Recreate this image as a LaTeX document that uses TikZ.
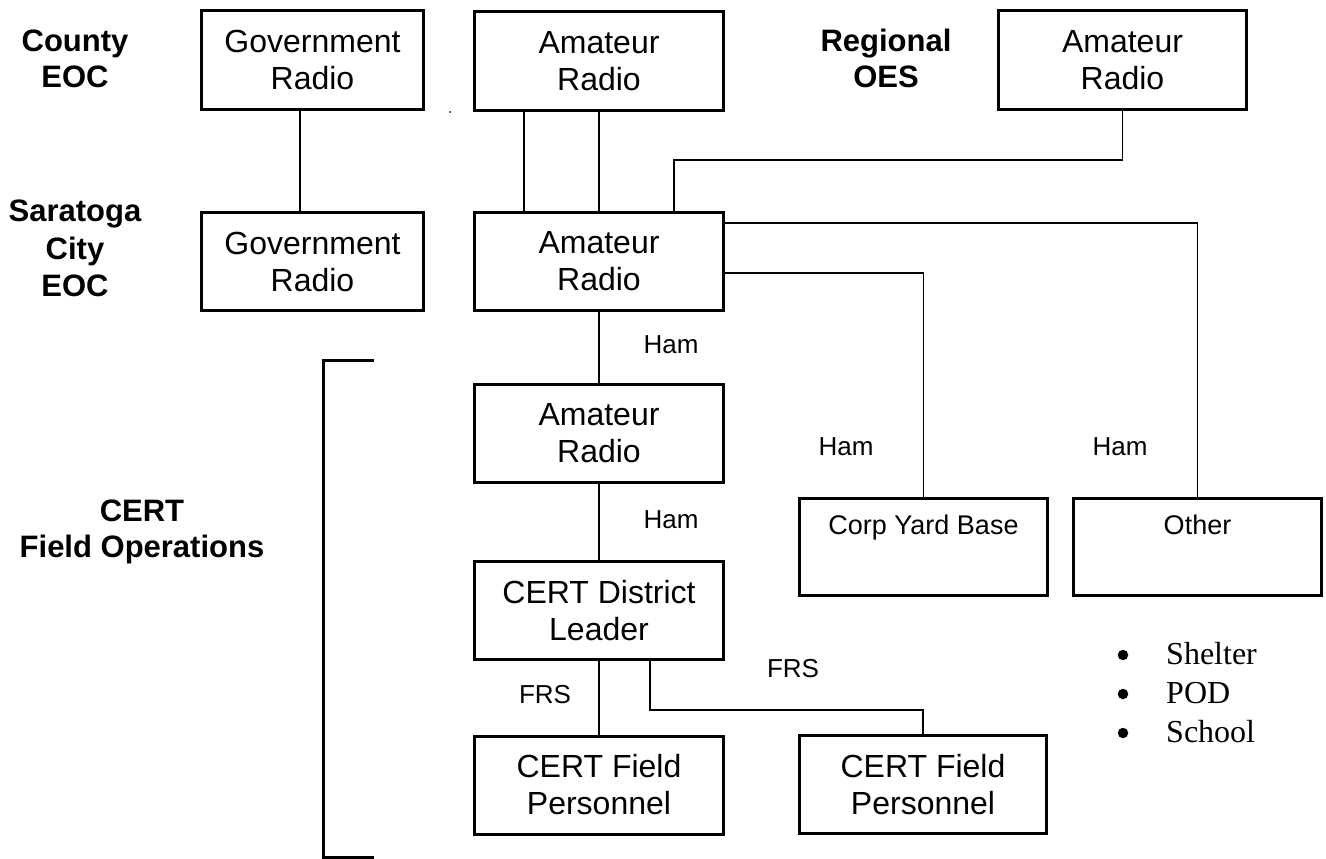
\documentclass[tikz,border=0pt]{standalone}
\usepackage{fontspec}
\setmainfont{Liberation Sans}
\newfontfamily\serifTNR{Liberation Serif}
\begin{document}
\begin{tikzpicture}[x=1pt,y=-1pt,
  boxbase/.style={draw,line width=3pt,rectangle,inner sep=0pt},
  box/.style={boxbase,align=center,font=\fontsize{32}{37}\selectfont},
  wide/.style={minimum width=249pt,minimum height=98pt},
  narrow/.style={minimum width=222pt,minimum height=98pt},
  topbox/.style={boxbase,font=\fontsize{27}{30}\selectfont,minimum width=248pt,minimum height=97pt,text height=19.5pt,text depth=45.5pt},
  lbl/.style={align=center,inner sep=0pt,font=\bfseries\fontsize{31}{36}\selectfont},
  tag/.style={inner sep=0pt,font=\fontsize{26}{30}\selectfont},
  link/.style={line width=1.5pt},
  bracket/.style={line width=3pt},
  bul/.style={circle,fill,inner sep=0pt,minimum size=10.5pt}]
\useasboundingbox (0,0) rectangle (1326,859);

% side labels
\node[lbl] (county) at (75,58.5) {County\\EOC};
\node[lbl,font=\bfseries\fontsize{31}{37.5}\selectfont] (saratoga) at (75,248.5) {Saratoga\\City\\EOC};
\node[lbl] (regional) at (886,58.5) {Regional\\OES};
\node[lbl] (certfo) at (142,532) {CERT\\Field Operations};

% boxes
\node[box,narrow] (gov1) at (312.5,60) {Government\\Radio};
\node[box,narrow] (gov2) at (312.5,261.5) {Government\\Radio};
\node[box,wide] (am1) at (599,61) {Amateur\\Radio};
\node[box,wide] (am2) at (599,261.5) {Amateur\\Radio};
\node[box,minimum width=248pt,minimum height=98pt] (reg) at (1122.5,60) {Amateur\\Radio};
\node[box,wide] (am3) at (599,433.5) {Amateur\\Radio};
\node[box,wide] (leader) at (599,610.5) {CERT District\\Leader};
\node[box,wide] (fp1) at (599,785) {CERT Field\\Personnel};
\node[box,minimum width=247pt,minimum height=98pt] (fp2) at (923,784.5) {CERT Field\\Personnel};
\node[topbox] (corp) at (923.5,547) {Corp Yard Base};
\node[topbox] (other) at (1197.5,547) {Other};

% junction coordinates
\coordinate (k1) at (674,160);
\coordinate (k2) at (1198,223);
\coordinate (k3) at (923,273);
\coordinate (k4) at (923,710);

% connectors
\draw[link] ([xshift=-12.5pt]gov1.south) -- ([xshift=-12.5pt]gov2.north);
\draw[link] ([xshift=-75pt]am1.south) -- ([xshift=-75pt]am2.north);
\draw[link] (am1.south) -- (am2.north);
\draw[link] (reg.south) |- (k1) -- (am2.north -| k1);
\draw[link] (am2.east |- k2) -| (other.north);
\draw[link] (am2.east |- k3) -| (corp.north);
\draw[link] (am2.south) -- (am3.north);
\draw[link] (am3.south) -- (leader.north);
\draw[link] (leader.south) -- (fp1.north);
\draw[link] ([xshift=51pt]leader.south) |- (k4) -- (fp2.north);

% connector labels
\node[tag] (ham1) at (671,345) {Ham};
\node[tag] (ham2) at (671,520) {Ham};
\node[tag] (ham3) at (846,447) {Ham};
\node[tag] (ham4) at (1120,447) {Ham};
\node[tag] (frs1) at (545,695) {FRS};
\node[tag] (frs2) at (793,669) {FRS};

% bracket
\coordinate (b1) at (374,360);
\coordinate (b2) at (323,360);
\coordinate (b3) at (323,857);
\coordinate (b4) at (374,857);
\draw[bracket] (b1) -- (b2) -- (b3) -- (b4);

% stray dot
\fill (450,112) circle (1);

% bullet list (anchor base = baseline of the last line)
\node[anchor=base west,inner sep=0pt,align=left,font=\serifTNR\fontsize{32}{39}\selectfont] (list) at (1166,742)
  {Shelter\\POD\\School};
\node[bul] (bul1) at (1123,655) {};
\node[bul] (bul2) at (1123,694) {};
\node[bul] (bul3) at (1123,733) {};
\end{tikzpicture}
\end{document}
